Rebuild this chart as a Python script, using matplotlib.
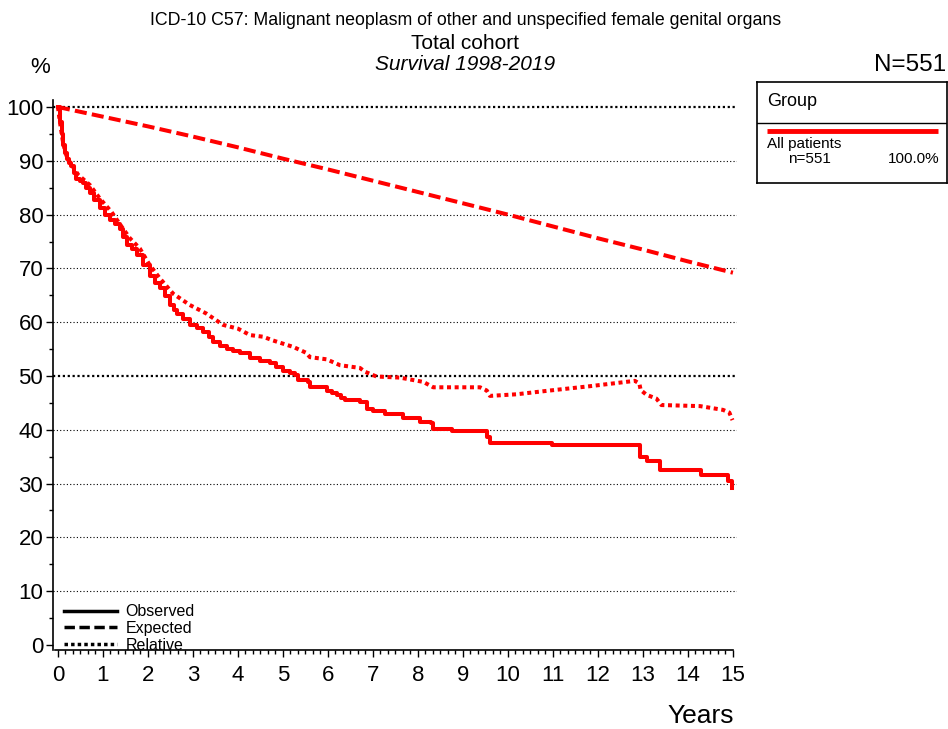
import matplotlib.pyplot as plt
from matplotlib.lines import Line2D
from matplotlib.ticker import MultipleLocator

plt.rcParams['font.family'] = ['Liberation Sans', 'DejaVu Sans']

RED = '#ff0000'

# observed survival (Kaplan-Meier steps), years / percent
obs_t = [0, 0.04, 0.08, 0.12, 0.16, 0.2, 0.25, 0.3, 0.36, 0.41, 0.48, 0.56, 0.63, 0.71,
         0.8, 0.93, 1.05, 1.16, 1.27, 1.38, 1.45, 1.53, 1.65, 1.75, 1.9, 2.04, 2.15,
         2.27, 2.38, 2.49, 2.57, 2.64, 2.78, 2.93, 3.08, 3.23, 3.35, 3.45, 3.6, 3.75,
         3.9, 4.05, 4.27, 4.5, 4.71, 4.85, 5.0, 5.15, 5.27, 5.34, 5.56, 5.6, 5.97, 6.1,
         6.2, 6.3, 6.38, 6.71, 6.86, 7.0, 7.16, 7.27, 7.67, 8.04, 8.3, 8.34, 8.75, 9.53,
         9.6, 10.97, 12.93, 13.08, 13.38, 14.3, 14.9, 14.99]
obs_s = [100, 97.3, 95.0, 92.9, 91.5, 90.4, 89.6, 89.0, 87.8, 86.7, 86.2, 85.8, 84.9, 84.0,
         82.8, 81.2, 80.0, 79.0, 78.3, 77.4, 75.8, 74.3, 73.6, 72.5, 70.6, 68.5, 67.2,
         66.3, 64.8, 63.2, 62.3, 61.6, 60.6, 59.5, 59.0, 58.2, 57.2, 56.4, 55.6, 55.0,
         54.6, 54.2, 53.3, 52.8, 52.4, 51.7, 51.0, 50.5, 50.2, 49.3, 48.9, 47.9, 47.2, 46.8,
         46.5, 45.9, 45.5, 45.2, 43.8, 43.5, 43.4, 42.9, 42.1, 41.5, 41.2, 40.2, 39.7, 38.7,
         37.6, 37.2, 35.0, 34.2, 32.5, 31.6, 30.4, 29.1]

# expected survival of matched general population
exp_t = [0, 1, 2, 3, 4, 5, 6, 7, 8, 9, 10, 11, 12, 13, 14, 15]
exp_s = [100, 98.2, 96.4, 94.5, 92.5, 90.4, 88.4, 86.3, 84.2, 82.1, 80.0, 77.8, 75.6,
         73.5, 71.3, 69.2]

# relative survival
rel_t = [0, 0.04, 0.12, 0.2, 0.3, 0.45, 0.71, 0.93, 1.19, 1.42, 1.6, 1.82, 2.04, 2.27,
         2.56, 2.93, 3.3, 3.67, 4.0, 4.27, 4.56, 4.78, 5.23, 5.52, 5.6, 5.97, 6.27, 6.71,
         6.82, 7.08, 7.6, 8.12, 8.34, 9.38, 9.53, 9.6, 10.19, 10.93, 11.82, 12.82, 12.92,
         12.95, 13.08, 13.3, 13.41, 14.27, 14.78, 14.92, 14.99]
rel_s = [100, 97.4, 93.1, 90.6, 89.3, 87.4, 85.5, 83.0, 80.5, 77.7, 75.6, 73.7, 70.6, 68.1,
         65.3, 63.2, 61.6, 59.5, 58.8, 57.6, 57.3, 56.6, 55.4, 54.3, 53.5, 53.1, 52.0, 51.5,
         50.8, 49.9, 49.7, 48.9, 47.9, 47.9, 47.3, 46.3, 46.6, 47.3, 48.1, 49.1, 48.6,
         47.4, 46.5, 45.8, 44.6, 44.4, 43.7, 43.2, 41.8]

y_ticks = list(range(0, 101, 10))
x_ticks = list(range(0, 16))

fig = plt.figure(figsize=(9.48, 7.29), dpi=100)
ax = fig.add_axes([0.0559, 0.1084, 0.7215, 0.7544])

# grid lines (50 and 100 heavier)
for v in y_ticks:
    if v == 0:
        continue
    if v in (50, 100):
        ax.axhline(v, color='black', lw=1.6, ls=(0, (1, 1.2)), zorder=1)
    else:
        ax.axhline(v, color='black', lw=0.8, ls=(0, (1, 2)), zorder=1)

ax.step(obs_t, obs_s, where='post', color=RED, lw=2.9, zorder=3)
ax.plot(exp_t, exp_s, color=RED, lw=2.9, ls=(0, (3, 1.3)), zorder=3)
ax.plot(rel_t, rel_s, color=RED, lw=2.9, ls=(0, (1, 0.9)), zorder=3)

ax.set_xlim(-0.11, 15.09)
ax.set_ylim(-0.93, 101.3)
ax.set_xticks(x_ticks)
ax.set_yticks(y_ticks)
ax.xaxis.set_minor_locator(MultipleLocator(1 / 6))
ax.yaxis.set_minor_locator(MultipleLocator(5))
ax.tick_params(axis='both', which='major', direction='out', length=5, width=1,
               labelsize=16, colors='black')
ax.tick_params(axis='both', which='minor', direction='out', length=3, width=1)
ax.tick_params(axis='x', pad=6)
ax.tick_params(axis='y', pad=2)
for s in ('top', 'right'):
    ax.spines[s].set_visible(False)
ax.spines['left'].set_linewidth(1.2)
ax.spines['bottom'].set_linewidth(1.2)
ax.spines['bottom'].set_bounds(-0.06, 15.0)

# line-type legend
handles = [Line2D([], [], color='black', lw=2.5),
           Line2D([], [], color='black', lw=2.5, ls=(0, (3, 1.3))),
           Line2D([], [], color='black', lw=2.5, ls=(0, (1, 0.9)))]
ax.legend(handles, ['Observed', 'Expected', 'Relative'], loc='lower left',
          bbox_to_anchor=(0.0, -0.025), frameon=False, fontsize=11.5,
          handlelength=3.3, handletextpad=0.55, labelspacing=0.1, borderaxespad=0.3)

# titles
fig.text(0.491, 0.972, 'ICD-10 C57: Malignant neoplasm of other and unspecified female genital organs',
         ha='center', va='center', fontsize=12.8)
fig.text(0.491, 0.941, 'Total cohort', ha='center', va='center', fontsize=15)
fig.text(0.491, 0.911, 'Survival 1998-2019', ha='center', va='center', fontsize=15,
         style='italic')
fig.text(0.042, 0.907, '%', ha='center', va='center', fontsize=16)
fig.text(0.998, 0.911, 'N=551', ha='right', va='center', fontsize=17.5)
fig.text(0.739, 0.002, 'Years', ha='center', va='bottom', fontsize=19)

# group legend box
lg = fig.add_axes([0.7985, 0.749, 0.2004, 0.1385])
lg.set_xlim(0, 190)
lg.set_ylim(101, 0)
lg.set_xticks([])
lg.set_yticks([])
for s in lg.spines.values():
    s.set_linewidth(1.2)
lg.axhline(41, color='black', lw=1)
lg.text(10, 19, 'Group', ha='left', va='center', fontsize=13)
lg.plot([10, 181], [49, 49], color=RED, lw=3.5, solid_capstyle='butt')
lg.text(10, 62, 'All patients', ha='left', va='center', fontsize=11)
lg.text(53, 77, 'n=551', ha='center', va='center', fontsize=11)
lg.text(183, 77, '100.0%', ha='right', va='center', fontsize=11)

fig.savefig('out.png', dpi=100)
